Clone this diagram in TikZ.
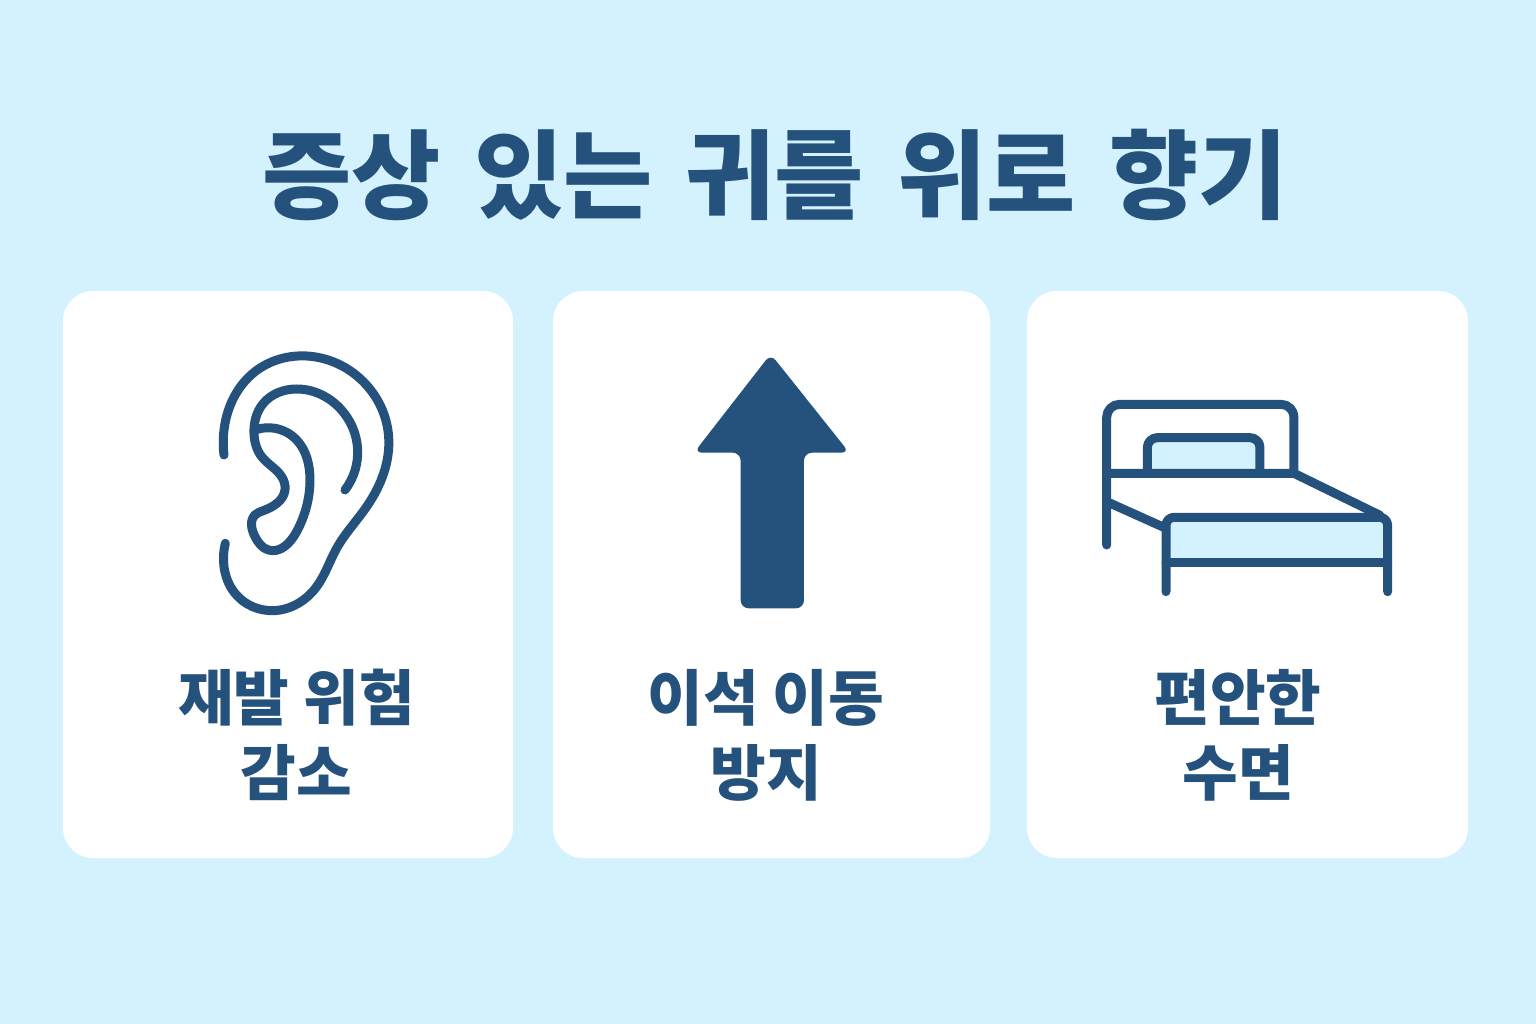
\documentclass[tikz,border=0pt]{standalone}
\usepackage{fontspec}
\newfontfamily\cjk{Noto Sans CJK KR}
\usetikzlibrary{positioning}
\usetikzlibrary{hobby}
\definecolor{skyback}{HTML}{D4F1FE}
\definecolor{inkblue}{HTML}{24527C}
\tikzset{
card/.style={fill=white,rounded corners=30pt,inner sep=0pt,minimum height=567pt},
caption/.style={text=inkblue,align=center,font=\cjk\bfseries\fontsize{60.5}{75}\selectfont},
icon/.style={draw=inkblue,line width=9pt,line cap=round,line join=round},
}
\begin{document}
\begin{tikzpicture}[x=1pt,y=-1pt]
\fill[skyback] (0,0) rectangle (1536,1024);
\useasboundingbox (0,0) rectangle (1536,1024);
\node[text=inkblue,font=\cjk\bfseries\fontsize{97}{97}\selectfont] (title) at (775,175) {증상\hspace{11pt} 있는\hspace{11pt} 귀를\hspace{11pt} 위로\hspace{11pt} 향기};
\node[card,minimum width=450pt] (card1) at (288,574.5) {};
\node[card,minimum width=437pt] (card2) at (771.5,574.5) {};
\node[card,minimum width=441pt] (card3) at (1247.5,574.5) {};
\node[caption] (text1) at (296.5,735) {재발 위험\\감소};
\node[caption] (text2) at (766,735) {이석 이동\\방지};
\node[caption] (text3) at (1238,735) {편안한\\수면};
% ear
\begin{scope}[shift={(200,340)},x=0.3333pt,y=-0.3333pt]
\draw[icon,use Hobby shortcut] (72,345) .. (72,270) .. (165,95) .. (320,48) .. (490,125) .. (566,290) .. (500,500) .. (410,625) .. (350,740) .. (220,812) .. (105,760) .. (72,680) .. (76,610);
\draw[icon,use Hobby shortcut] (435,450) .. (473,330) .. (420,205) .. (290,147) .. (190,190) .. (162,280) .. (185,350) .. (245,410) .. (255,450) .. (190,512) .. (165,525) .. (165,590) .. (205,630) .. (290,575) .. (330,420) .. (290,300) .. (225,265) .. (172,268);
\end{scope}
% arrow
\begin{scope}[shift={(680,345)},x=0.3333pt,y=-0.3333pt]
\fill[inkblue,rounded corners=8pt] (272,27) -- (508,323) -- (372,323) -- (372,790) -- (182,790) -- (182,323) -- (42,323) -- cycle;
\end{scope}
% bed
\begin{scope}[shift={(1090,390)},x=0.3333pt,y=-0.3333pt]
\fill[skyback] (172,250) -- (172,143) -- (510,143) -- (510,250) -- cycle;
\fill[skyback] (228,382) rectangle (893,518);
\draw[icon,rounded corners=13pt] (50,465) -- (50,43) -- (612,43) -- (612,250);
\draw[icon] (50,250) -- (612,250) -- (870,376);
\draw[icon,rounded corners=10pt] (172,245) -- (172,143) -- (510,143) -- (510,245);
\draw[icon,rounded corners=8pt] (228,605) -- (228,382) -- (893,382) -- (893,605);
\draw[icon] (228,518) -- (893,518);
\draw[icon] (50,335) -- (228,415);
\end{scope}
\end{tikzpicture}
\end{document}
